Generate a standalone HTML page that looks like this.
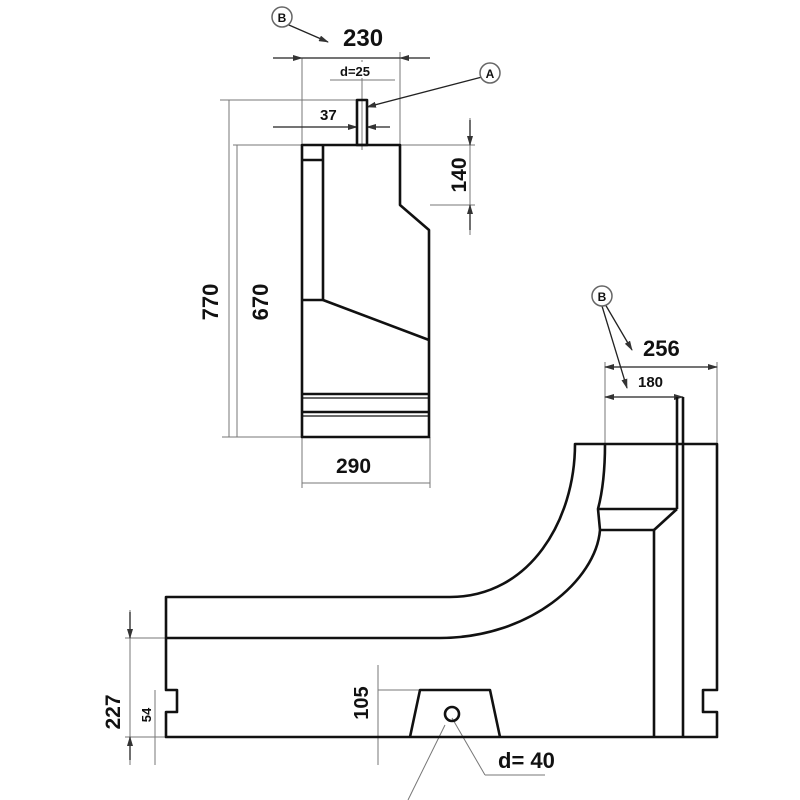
<!DOCTYPE html>
<html><head><meta charset="utf-8"><style>
html,body{margin:0;padding:0;background:#fff}
svg{display:block}
text{font-family:"Liberation Sans",sans-serif;font-weight:bold;fill:#111}
</style></head><body>
<svg width="800" height="800" viewBox="0 0 800 800" xmlns="http://www.w3.org/2000/svg">
<defs>
<marker id="ar" markerWidth="10" markerHeight="6" refX="9" refY="3" orient="auto-start-reverse" markerUnits="userSpaceOnUse"><path d="M0,0 L10,3 L0,6z" fill="#333"/></marker>
</defs>
<g stroke="#777" stroke-width="1" fill="none">
  <line x1="302" y1="58" x2="302" y2="145"/><line x1="400" y1="52" x2="400" y2="145"/>
  <line x1="362" y1="60" x2="362" y2="150"/>
  <line x1="220" y1="100" x2="357" y2="100"/><line x1="233" y1="145" x2="302" y2="145"/>
  <line x1="229" y1="100" x2="229" y2="437"/><line x1="237" y1="145" x2="237" y2="437"/>
  <line x1="222" y1="437" x2="302" y2="437"/>
  <line x1="400" y1="145" x2="475" y2="145"/><line x1="430" y1="205" x2="475" y2="205"/>
  <line x1="470" y1="118" x2="470" y2="235"/>
  <line x1="302" y1="437" x2="302" y2="488"/><line x1="430" y1="437" x2="430" y2="488"/>
  <line x1="302" y1="483" x2="430" y2="483"/>
  <line x1="605" y1="362" x2="605" y2="444"/><line x1="717" y1="362" x2="717" y2="444"/>
  <line x1="125" y1="638" x2="166" y2="638"/><line x1="130" y1="610" x2="130" y2="765"/>
  <line x1="155" y1="690" x2="155" y2="765"/><line x1="125" y1="737" x2="166" y2="737"/>
  <line x1="378" y1="665" x2="378" y2="765"/><line x1="378" y1="690" x2="420" y2="690"/>
  <line x1="452" y1="718" x2="485" y2="775"/><line x1="485" y1="775" x2="545" y2="775"/>
  <line x1="445" y1="725" x2="408" y2="800"/>
</g>
<rect x="336" y="62" width="38" height="16" fill="#fff"/>
<line x1="330" y1="80" x2="395" y2="80" stroke="#777" stroke-width="1"/>
<g stroke="#222" stroke-width="1.3" fill="none">
  <line x1="302" y1="58" x2="400" y2="58"/>
  <line x1="273" y1="58" x2="302" y2="58" marker-end="url(#ar)"/>
  <line x1="430" y1="58" x2="400" y2="58" marker-end="url(#ar)"/>
  <line x1="273" y1="127" x2="357" y2="127" marker-end="url(#ar)"/>
  <line x1="390" y1="127" x2="367" y2="127" marker-end="url(#ar)"/>
  <line x1="470" y1="120" x2="470" y2="145" marker-end="url(#ar)"/>
  <line x1="470" y1="230" x2="470" y2="205" marker-end="url(#ar)"/>
  <line x1="282" y1="22" x2="328" y2="42" marker-end="url(#ar)"/>
  <line x1="482" y1="77" x2="367" y2="107" marker-end="url(#ar)"/>
  <line x1="605" y1="304" x2="632" y2="350" marker-end="url(#ar)"/>
  <line x1="602" y1="306" x2="627" y2="388" marker-end="url(#ar)"/>
  <line x1="130" y1="612" x2="130" y2="638" marker-end="url(#ar)"/>
  <line x1="130" y1="760" x2="130" y2="737" marker-end="url(#ar)"/>
  <line x1="605" y1="367" x2="717" y2="367" marker-start="url(#ar)" marker-end="url(#ar)"/>
  <line x1="605" y1="397" x2="683" y2="397" marker-start="url(#ar)" marker-end="url(#ar)"/>
</g>
<circle cx="282" cy="17" r="10" fill="#fff" stroke="#666" stroke-width="1.5"/>
<text x="282" y="22" font-size="12" text-anchor="middle" font-weight="normal" fill="#666">B</text>
<circle cx="490" cy="73" r="10" fill="#fff" stroke="#666" stroke-width="1.5"/>
<text x="490" y="78" font-size="12" text-anchor="middle" font-weight="normal" fill="#666">A</text>
<circle cx="602" cy="296" r="10" fill="#fff" stroke="#666" stroke-width="1.5"/>
<text x="602" y="301" font-size="12" text-anchor="middle" font-weight="normal" fill="#666">B</text>
<g stroke="#111" stroke-width="2.6" fill="none" stroke-linejoin="round">
  <path d="M302,145 L400,145 L400,205 L429,230 L429,437 L302,437 Z"/>
  <line x1="323" y1="145" x2="323" y2="300"/>
  <line x1="302" y1="160" x2="323" y2="160"/>
  <line x1="302" y1="300" x2="323" y2="300"/>
  <line x1="323" y1="300" x2="429" y2="340"/>
  <line x1="302" y1="394" x2="429" y2="394"/>
  <line x1="302" y1="412" x2="429" y2="412"/>
  <rect x="357" y="100" width="10" height="45"/>
</g>
<g stroke="#111" stroke-width="1.2" fill="none">
  <line x1="302" y1="398" x2="429" y2="398"/><line x1="302" y1="416" x2="429" y2="416"/>
</g>
<g stroke="#111" stroke-width="2.6" fill="none" stroke-linejoin="round">
  <path d="M166,597 L450,597 C530,597 575,520 575,444 L717,444 L717,690 L703,690 L703,712 L717,712 L717,737 L166,737 L166,712 L177,712 L177,690 L166,690 Z"/>
  <path d="M166,638 L440,638 C530,638 596,580 600,530 L598,509 C603,490 605,465 605,444"/>
  <line x1="598" y1="509" x2="677" y2="509"/>
  <line x1="677" y1="509" x2="654" y2="530"/>
  <line x1="600" y1="530" x2="654" y2="530"/>
  <line x1="654" y1="530" x2="654" y2="737"/>
  <line x1="677" y1="397" x2="677" y2="509"/>
  <line x1="683" y1="397" x2="683" y2="737"/>
  <path d="M410,737 L420,690 L490,690 L500,737"/>
  <circle cx="452" cy="714" r="7"/>
</g>
<text x="343" y="46" font-size="24">230</text>
<text x="340" y="76" font-size="13">d=25</text>
<text x="320" y="120" font-size="15">37</text>
<text x="336" y="473" font-size="21">290</text>
<text x="643" y="356" font-size="22">256</text>
<text x="638" y="387" font-size="15">180</text>
<text x="498" y="768" font-size="22">d= 40</text>
<text transform="translate(466,175) rotate(-90)" font-size="21" text-anchor="middle">140</text>
<text transform="translate(218,302) rotate(-90)" font-size="22" text-anchor="middle">770</text>
<text transform="translate(268,302) rotate(-90)" font-size="22" text-anchor="middle">670</text>
<text transform="translate(120,712) rotate(-90)" font-size="21" text-anchor="middle">227</text>
<text transform="translate(151,715) rotate(-90)" font-size="13" text-anchor="middle">54</text>
<text transform="translate(368,703) rotate(-90)" font-size="20" text-anchor="middle">105</text>
</svg>
</body></html>
